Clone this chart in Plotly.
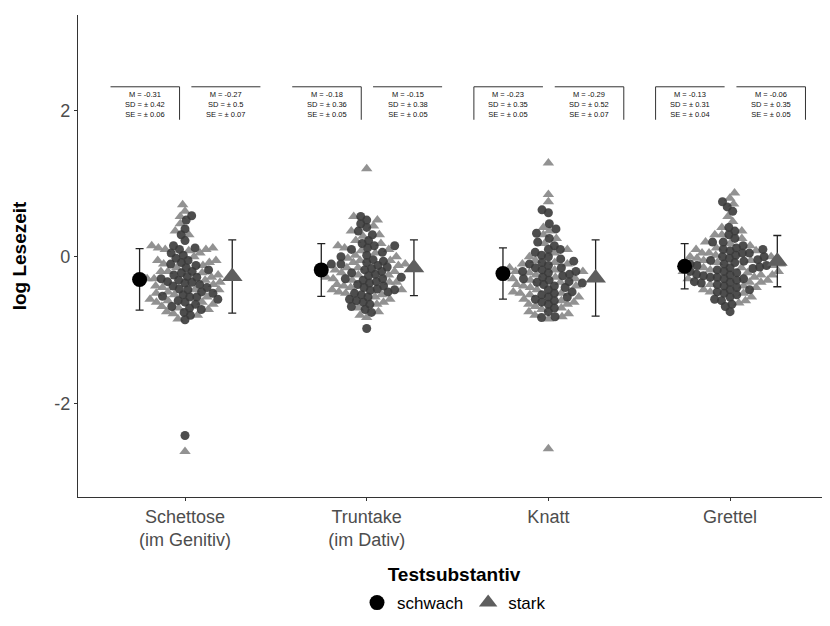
import math
import plotly.graph_objects as go

categories = ["Schettose<br>(im Genitiv)", "Truntake<br>(im Dativ)", "Knatt", "Grettel"]
groups = ["schwach", "stark"]

schettose_schwach = [0.56, 0.50, 0.38, 0.30, 0.22, 0.15, 0.12, 0.10, 0.05, 0.02, -0.02, -0.05,
                     -0.08, -0.10, -0.12, -0.15, -0.18, -0.20, -0.22, -0.25, -0.27, -0.28, -0.30,
                     -0.32, -0.34, -0.36, -0.38, -0.40, -0.42, -0.44, -0.45, -0.48, -0.50, -0.52,
                     -0.54, -0.55, -0.58, -0.60, -0.62, -0.65, -0.68, -0.70, -0.72, -0.76, -0.80,
                     -0.86, -0.55, -0.35, -2.44]
schettose_stark = [0.71, 0.62, 0.55, 0.45, 0.35, 0.30, 0.15, 0.12, 0.10, 0.08, 0.10, 0.05, 0.0,
                   -0.05, -0.08, -0.10, -0.12, -0.15, -0.20, -0.22, -0.25, -0.28, -0.30, -0.30,
                   -0.32, -0.35, -0.38, -0.40, -0.42, -0.45, -0.48, -0.50, -0.52, -0.55, -0.58,
                   -0.60, -0.62, -0.65, -0.68, -0.70, -0.72, -0.75, -0.78, -0.80, -0.85, -0.45,
                   -0.20, 0.12, -0.62, -0.05, -2.66]
truntake_schwach = [0.55, 0.50, 0.45, 0.40, 0.35, 0.30, 0.22, 0.18, 0.15, 0.12, 0.10, 0.06, 0.02,
                    0.0, -0.04, -0.06, -0.08, -0.10, -0.12, -0.14, -0.16, -0.18, -0.20, -0.22,
                    -0.24, -0.26, -0.28, -0.30, -0.32, -0.34, -0.36, -0.38, -0.40, -0.42, -0.44,
                    -0.46, -0.48, -0.50, -0.52, -0.55, -0.58, -0.60, -0.62, -0.65, -0.68, -0.72,
                    -0.76, -0.98, -0.10, -0.30, 0.15, -0.45]
truntake_stark = [1.20, 0.55, 0.50, 0.42, 0.35, 0.28, 0.22, 0.18, 0.15, 0.12, 0.08, 0.05, 0.02,
                  0.0, -0.02, -0.05, -0.08, -0.10, -0.12, -0.15, -0.18, -0.20, -0.22, -0.25,
                  -0.28, -0.30, -0.32, -0.35, -0.38, -0.40, -0.42, -0.45, -0.48, -0.50, -0.52,
                  -0.55, -0.58, -0.62, -0.65, -0.70, -0.75, -0.80, -0.83, 0.10, -0.25, -0.05,
                  -0.35, -0.15, 0.30, -0.45]
knatt_schwach = [0.64, 0.60, 0.45, 0.38, 0.32, 0.25, 0.20, 0.15, 0.10, 0.06, 0.02, 0.0, -0.03,
                 -0.06, -0.08, -0.10, -0.12, -0.15, -0.18, -0.20, -0.22, -0.24, -0.26, -0.28,
                 -0.30, -0.32, -0.34, -0.36, -0.38, -0.40, -0.42, -0.45, -0.48, -0.50, -0.52,
                 -0.55, -0.58, -0.60, -0.62, -0.65, -0.70, -0.75, -0.82, -0.83, -0.20, -0.35,
                 0.10, -0.55, -0.15]
knatt_stark = [1.28, 0.85, 0.75, 0.40, 0.35, 0.30, 0.18, 0.10, 0.05, 0.0, -0.05, -0.08, -0.10,
               -0.15, -0.18, -0.20, -0.22, -0.25, -0.28, -0.30, -0.32, -0.35, -0.38, -0.40,
               -0.42, -0.45, -0.48, -0.50, -0.52, -0.55, -0.58, -0.60, -0.62, -0.65, -0.68,
               -0.70, -0.72, -0.75, -0.78, -0.80, -0.82, -0.85, -0.30, -0.10, 0.25, -0.50,
               -0.65, -0.40, -2.62, -0.20]
grettel_schwach = [0.75, 0.68, 0.62, 0.40, 0.35, 0.30, 0.25, 0.20, 0.15, 0.12, 0.10, 0.08, 0.05,
                   0.02, 0.0, -0.02, -0.04, -0.06, -0.08, -0.10, -0.12, -0.14, -0.16, -0.18,
                   -0.20, -0.22, -0.24, -0.26, -0.28, -0.30, -0.32, -0.34, -0.36, -0.38, -0.40,
                   -0.42, -0.45, -0.48, -0.50, -0.52, -0.55, -0.58, -0.60, -0.65, -0.68, -0.75,
                   -0.10, -0.30, 0.0, -0.20, -0.15, 0.10, -0.25, -0.35, -0.05, 0.20, -0.45,
                   -0.12, -0.28, 0.05]
grettel_stark = [0.87, 0.80, 0.72, 0.55, 0.48, 0.40, 0.35, 0.30, 0.25, 0.20, 0.18, 0.15, 0.10,
                 0.08, 0.05, 0.02, 0.0, -0.02, -0.05, -0.08, -0.10, -0.12, -0.15, -0.18, -0.20,
                 -0.22, -0.25, -0.28, -0.30, -0.32, -0.35, -0.38, -0.40, -0.42, -0.45, -0.48,
                 -0.50, -0.55, -0.60, -0.63, 0.0, -0.15, 0.12, -0.25, -0.05, 0.30, -0.35, 0.05,
                 -0.10, -0.20]

mean_schwach = [-0.31, -0.18, -0.23, -0.13]
sd_schwach = [0.42, 0.36, 0.35, 0.31]
se_schwach = [0.06, 0.05, 0.05, 0.04]
mean_stark = [-0.27, -0.15, -0.29, -0.06]
sd_stark = [0.5, 0.38, 0.52, 0.35]
se_stark = [0.07, 0.05, 0.07, 0.05]

raw_schwach = [schettose_schwach, truntake_schwach, knatt_schwach, grettel_schwach]
raw_stark = [schettose_stark, truntake_stark, knatt_stark, grettel_stark]

# ---- layout geometry (pixels); page body has an 8px margin ----
W, H = 822, 618
ML, MR, MT, MB = 70, 0, 7, 129
X_RANGE = [0.411, 4.55]
Y_RANGE = [-3.28, 3.30]
ppx = (W - ML - MR) / (X_RANGE[1] - X_RANGE[0])
ppy = (H - MT - MB) / (Y_RANGE[1] - Y_RANGE[0])


def swarm(values, d):
    """Beeswarm offsets (pixels) for a list of values, ascending priority."""
    idx = sorted(range(len(values)), key=lambda i: values[i])
    placed = []
    offs = [0.0] * len(values)
    for i in idx:
        y = values[i] * ppy
        cands = [0.0]
        near = [(py, px) for (py, px) in placed if abs(py - y) < d]
        for py, px in near:
            dx = math.sqrt(max(d * d - (py - y) ** 2, 0))
            cands += [px + dx, px - dx]
        cands.sort(key=lambda c: (abs(c), c))
        for c in cands:
            if all((py - y) ** 2 + (px - c) ** 2 >= d * d - 1e-6 for py, px in near):
                offs[i] = c
                break
        placed.append((y, offs[i]))
    return offs


fig = go.Figure()

sx_w, sy_w, sx_s, sy_s = [], [], [], []
for k in range(4):
    vals = raw_schwach[k] + raw_stark[k]
    offs = swarm(vals, 7.0)
    n1 = len(raw_schwach[k])
    for j, v in enumerate(vals):
        x = k + 1 + offs[j] / ppx
        if j < n1:
            sx_w.append(x); sy_w.append(v)
        else:
            sx_s.append(x); sy_s.append(v)

fig.add_trace(go.Scatter(x=sx_s, y=sy_s, mode="markers", showlegend=False,
                         marker=dict(symbol="triangle-up", size=10, color="#8c8c8c",
                                     opacity=0.95, line=dict(width=0))))
fig.add_trace(go.Scatter(x=sx_w, y=sy_w, mode="markers", showlegend=False,
                         marker=dict(symbol="circle", size=9, color="#3a3a3a",
                                     opacity=0.9, line=dict(width=0))))

xs = [1, 2, 3, 4]
fig.add_trace(go.Scatter(
    x=[x - 0.25 for x in xs], y=mean_schwach, mode="markers", name="schwach",
    marker=dict(symbol="circle", size=15, color="black"),
    error_y=dict(type="data", array=sd_schwach, color="#222222", thickness=1.3, width=4)))
fig.add_trace(go.Scatter(
    x=[x + 0.26 for x in xs], y=mean_stark, mode="markers", name="stark",
    marker=dict(symbol="triangle-up", size=18, color="#5e5e5e"),
    error_y=dict(type="data", array=sd_stark, color="#222222", thickness=1.3, width=4)))

# summary labels
box_sides = [[(False, True), (False, False)], [(False, True), (False, False)],
             [(True, False), (False, True)], [(True, False), (False, True)]]
shapes = []
annots = []
hw = 0.19
ytop, ybot = 2.32, 1.87
for k in range(4):
    for g, (dx, m, sd, se) in enumerate([(-0.22, mean_schwach[k], sd_schwach[k], se_schwach[k]),
                                         (0.225, mean_stark[k], sd_stark[k], se_stark[k])]):
        cx = k + 1 + dx
        annots.append(dict(x=cx, y=2.085, xref="x", yref="y", showarrow=False,
                           text=f"M = {m}<br>SD = ± {sd}<br>SE = ± {se}",
                           font=dict(size=7.5, color="#111111", family="Liberation Sans"),
                           align="center"))
        shapes.append(dict(type="line", xref="x", yref="y", x0=cx - hw, x1=cx + hw,
                           y0=ytop, y1=ytop, line=dict(color="#333333", width=1)))
        left, right = box_sides[k][g]
        if left:
            shapes.append(dict(type="line", xref="x", yref="y", x0=cx - hw, x1=cx - hw,
                               y0=ytop, y1=ybot, line=dict(color="#333333", width=1)))
        if right:
            shapes.append(dict(type="line", xref="x", yref="y", x0=cx + hw, x1=cx + hw,
                               y0=ytop, y1=ybot, line=dict(color="#333333", width=1)))

fig.update_layout(
    width=W, height=H,
    margin=dict(l=ML, r=MR, t=MT, b=MB, autoexpand=False),
    plot_bgcolor="white", paper_bgcolor="white",
    font=dict(family="Liberation Sans", color="#4d4d4d", size=16),
    shapes=shapes, annotations=annots,
    legend=dict(orientation="h", x=0.5, xanchor="center", y=-0.22, yanchor="middle",
                font=dict(size=17, color="black"), itemwidth=30, tracegroupgap=0),
    xaxis=dict(range=X_RANGE, tickmode="array", tickvals=xs, ticktext=categories,
               automargin=False,
               showgrid=False, zeroline=False, showline=True, linecolor="#333333",
               linewidth=1.3, ticks="outside", ticklen=3, tickcolor="#333333",
               tickfont=dict(size=18, color="#4d4d4d"),
               title=dict(text="<b>Testsubstantiv</b>", font=dict(size=19, color="black"),
                          standoff=18)),
    yaxis=dict(range=Y_RANGE, tickmode="array", tickvals=[-2, 0, 2],
               ticktext=["-2", "0", "2"], automargin=False,
               showgrid=False, zeroline=False, showline=True, linecolor="#333333",
               linewidth=1.3, ticks="outside", ticklen=3, tickcolor="#333333",
               tickfont=dict(size=18, color="#4d4d4d"),
               title=dict(text="<b>log Lesezeit</b>", font=dict(size=19, color="black"),
                          standoff=22)),
)

fig.write_html("out.html")
